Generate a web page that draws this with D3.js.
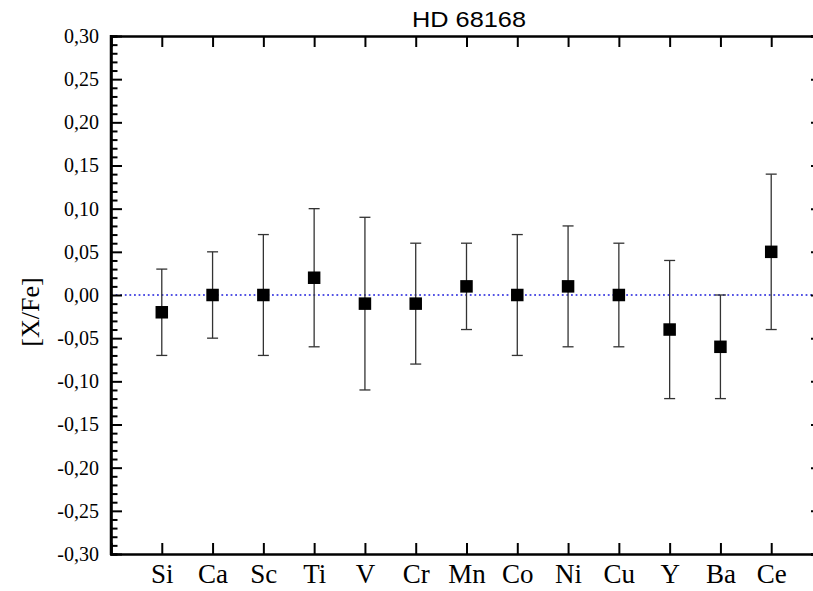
<!DOCTYPE html>
<html>
<head>
<meta charset="utf-8">
<script src="https://cdn.jsdelivr.net/npm/d3@7"></script>
<style>
  html, body { margin: 0; padding: 0; background: #fff; }
  svg { display: block; }
</style>
</head>
<body>
<div id="chart"></div>
<script>
// element abundances for HD 68168
var elements = ['Si', 'Ca', 'Sc', 'Ti', 'V', 'Cr', 'Mn', 'Co', 'Ni', 'Cu', 'Y', 'Ba', 'Ce'];
var abundances = [-0.02, 0.00, 0.00, 0.02, -0.01, -0.01, 0.01, 0.00, 0.01, 0.00, -0.04, -0.06, 0.05];
var errors = [0.05, 0.05, 0.07, 0.08, 0.10, 0.07, 0.05, 0.07, 0.07, 0.06, 0.08, 0.06, 0.09];
var yTicks = [-0.30, -0.25, -0.20, -0.15, -0.10, -0.05, 0.00, 0.05, 0.10, 0.15, 0.20, 0.25, 0.30];

var width = 813, height = 591;
var margin = {top: 36, left: 111, bottom: 37};
var plotRight = 822; // right frame falls just outside the picture
var serif = '"Liberation Serif", "Times New Roman", serif';

var svg = d3.select('#chart').append('svg')
    .attr('width', width)
    .attr('height', height);

var x = d3.scaleLinear().domain([0, elements.length + 1]).range([margin.left, plotRight]);
var y = d3.scaleLinear().domain([-0.30, 0.30]).range([height - margin.bottom, margin.top]);

var fmt = function(d) { return d3.format('.2f')(d).replace('.', ',').replace('−', '-'); };
var minorTicks = d3.range(-30, 31).map(function(d) { return d / 100; })
    .filter(function(d) { return Math.round(d * 100) % 5 !== 0; });

// zero reference line
svg.append('line')
    .attr('x1', x(0)).attr('x2', plotRight)
    .attr('y1', y(0)).attr('y2', y(0))
    .attr('stroke', '#1c1cdc')
    .attr('stroke-width', 1.3)
    .attr('stroke-dasharray', '1.8,2.8');

// left axis
var left = svg.append('g')
    .attr('transform', 'translate(' + margin.left + ',0)')
    .attr('font-family', serif)
    .call(d3.axisLeft(y).tickValues(yTicks).tickSize(-11).tickPadding(12).tickFormat(fmt));
left.append('g')
    .call(d3.axisLeft(y).tickValues(minorTicks).tickSize(-6.5).tickFormat(''));

// right axis (only inward major ticks show)
svg.append('g')
    .attr('transform', 'translate(' + plotRight + ',0)')
    .call(d3.axisRight(y).tickValues(yTicks).tickSize(-11).tickFormat(''));

// bottom axis
var catIdx = elements.map(function(d, i) { return i + 1; });
var bottom = svg.append('g')
    .attr('transform', 'translate(0,' + (height - margin.bottom) + ')')
    .call(d3.axisBottom(x).tickValues(catIdx).tickSize(-11)
      .tickFormat(function(d) { return elements[d - 1]; }));

// top axis
svg.append('g')
    .attr('transform', 'translate(0,' + margin.top + ')')
    .call(d3.axisTop(x).tickValues(catIdx).tickSize(-11).tickFormat(''));

svg.selectAll('.domain')
    .attr('stroke', '#000')
    .attr('stroke-width', 2.5);
svg.selectAll('.tick line')
    .attr('stroke', '#000')
    .attr('stroke-width', 2);

left.selectAll('.tick text')
    .attr('font-family', serif)
    .attr('font-size', 20)
    .attr('fill', '#000');
left.select('.domain').attr('d', 'M0,' + (margin.top - 1) + 'V' + (height - margin.bottom + 1));

bottom.selectAll('.tick text')
    .attr('font-family', serif)
    .attr('font-size', 27)
    .attr('fill', '#000')
    .attr('y', 29)
    .attr('dy', 0);

// error bars
var capW = 5.5;
var bars = svg.append('g').selectAll('g')
    .data(elements)
    .enter()
    .append('g');

bars.append('line')
    .attr('x1', function(d, i) { return x(i + 1); })
    .attr('x2', function(d, i) { return x(i + 1); })
    .attr('y1', function(d, i) { return y(abundances[i] + errors[i]); })
    .attr('y2', function(d, i) { return y(abundances[i] - errors[i]); })
    .attr('stroke', '#333')
    .attr('stroke-width', 1.3);

[1, -1].forEach(function(s) {
  bars.append('line')
      .attr('x1', function(d, i) { return x(i + 1) - capW; })
      .attr('x2', function(d, i) { return x(i + 1) + capW; })
      .attr('y1', function(d, i) { return y(abundances[i] + s * errors[i]); })
      .attr('y2', function(d, i) { return y(abundances[i] + s * errors[i]); })
      .attr('stroke', '#333')
      .attr('stroke-width', 1.3);
});

// square markers
var sq = 12.5;
bars.append('rect')
    .attr('x', function(d, i) { return x(i + 1) - sq / 2; })
    .attr('y', function(d, i) { return y(abundances[i]) - sq / 2; })
    .attr('width', sq)
    .attr('height', sq)
    .attr('fill', '#000');

// title
svg.append('text')
    .attr('x', 469)
    .attr('y', 27)
    .attr('text-anchor', 'middle')
    .attr('font-family', '"Liberation Sans", Arial, sans-serif')
    .attr('font-size', 22.5)
    .attr('textLength', 114)
    .attr('lengthAdjust', 'spacingAndGlyphs')
    .text('HD 68168');

// y axis title
svg.append('text')
    .attr('transform', 'translate(39,' + 312 + ') rotate(-90)')
    .attr('text-anchor', 'middle')
    .attr('font-family', serif)
    .attr('font-size', 26)
    .text('[X/Fe]');
</script>
</body>
</html>
